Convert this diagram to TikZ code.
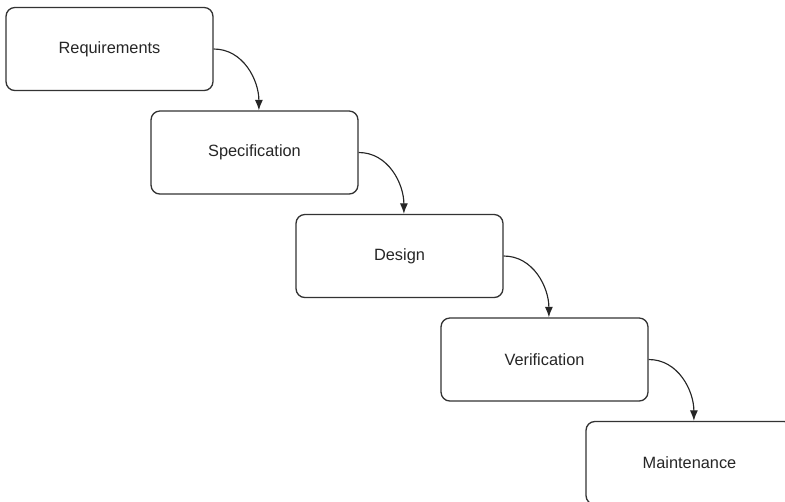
\documentclass[tikz,border=0pt]{standalone}
\usepackage{fontspec}
\setmainfont{Liberation Sans}
\usetikzlibrary{arrows.meta}

\begin{document}
\begin{tikzpicture}[x=0.02cm, y=-0.02cm,
	phase/.style={draw=black!80, line width=0.75pt, rounded corners=5pt, fill=white,
		minimum width=4.14cm, minimum height=1.66cm, inner sep=0pt,
		font=\fontsize{9.3}{11}\selectfont, text=black!85},
	flow/.style={draw=black!85, line width=0.65pt, -{Latex[length=6pt,width=4.6pt]}}]
	\def\stepx{145}
	\def\stepy{103.5}
	\def\firstx{109.5}
	\def\firsty{49}

	\clip (0,0) rectangle (785,501);

	\node[phase] (Req) at (\firstx,\firsty) {Requirements};
	\node[phase] (Spec) at (\firstx+\stepx,\firsty+\stepy) {Specification};
	\node[phase] (Des) at (\firstx+2*\stepx,\firsty+2*\stepy) {Design};
	\node[phase] (Ver) at (\firstx+3*\stepx,\firsty+3*\stepy) {Verification};
	\node[phase] (Main) at (\firstx+4*\stepx,\firsty+4*\stepy) {Maintenance};

	\draw[flow] (Req.east) to[out=0, in=90] ([xshift=2.5]Spec.north);
	\draw[flow] (Spec.east) to[out=0, in=90] ([xshift=2.5]Des.north);
	\draw[flow] (Des.east) to[out=0, in=90] ([xshift=2.5]Ver.north);
	\draw[flow] (Ver.east) to[out=0, in=90] ([xshift=2.5]Main.north);
\end{tikzpicture}
\end{document}
